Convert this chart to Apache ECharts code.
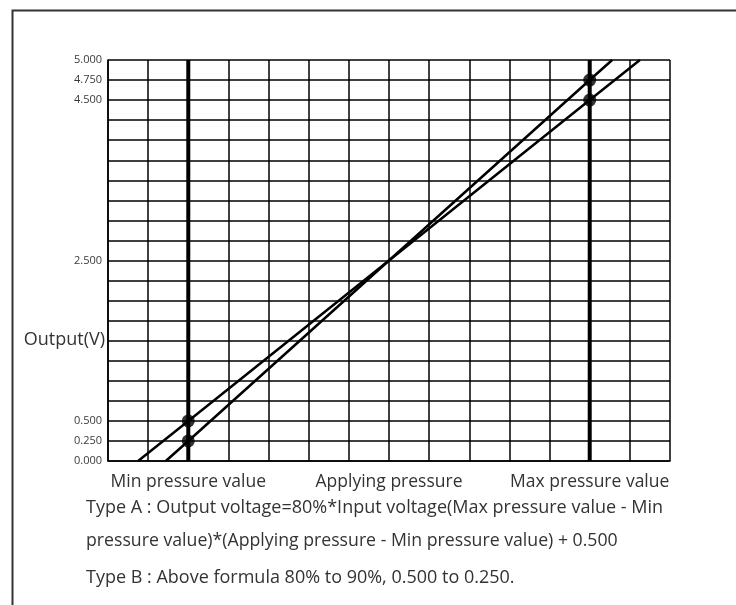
<!DOCTYPE html>
<html>
<head>
<meta charset="utf-8">
<script src="https://cdn.jsdelivr.net/npm/echarts@6/dist/echarts.min.js"></script>
<style>
html,body{margin:0;padding:0;background:#fff;}
#chart{width:736px;height:605px;}
</style>
</head>
<body>
<div id="chart"></div>
<script>
// ---- data ----
var xMin = 0, xMax = 14;
var yMin = 0, yMax = 5;
var yLabelsShown = [0, 0.25, 0.5, 2.5, 4.5, 4.75, 5];
var xLabelPositions = [2, 7, 12];
var xLabelTexts = ['Min pressure value', 'Applying pressure', 'Max pressure value'];
var minPressureX = 2;
var maxPressureX = 12;
var typeA = [[0.75, 0], [2, 0.5], [12, 4.5], [13.25, 5]];
var typeB = [[1.44, 0], [2, 0.25], [12, 4.75], [12.56, 5]];
var markPoints = [[2, 0.5], [2, 0.25], [12, 4.75], [12, 4.5]];
var yAxisName = 'Output(V)';
var noteLines = [
  'Type A : Output voltage=80%*Input voltage(Max pressure value - Min',
  'pressure value)*(Applying pressure - Min pressure value) + 0.500',
  'Type B : Above formula 80% to 90%, 0.500 to 0.250.'
];

var chart = echarts.init(document.getElementById('chart'), null, {renderer: 'canvas'});
var font = 'Open Sans';
var textColor = '#333';

var option = {
  backgroundColor: '#fff',
  animation: false,
  grid: {left: 108, right: 66, top: 60, bottom: 144, containLabel: false, outerBoundsMode: 'none'},
  xAxis: {
    type: 'value', min: xMin, max: xMax, interval: 1,
    axisLine: {show: true, lineStyle: {color: '#000', width: 1.5}},
    axisTick: {show: false},
    splitLine: {show: true, lineStyle: {color: '#000', width: 1.5}},
    axisLabel: {
      show: true, margin: 12, fontSize: 17.5, color: textColor, fontFamily: font,
      showMinLabel: true, showMaxLabel: true, hideOverlap: false,
      formatter: function (v) {
        var i = xLabelPositions.indexOf(v);
        return i >= 0 ? xLabelTexts[i] : '';
      }
    }
  },
  yAxis: {
    type: 'value', min: yMin, max: yMax, interval: 0.25,
    axisLine: {show: true, lineStyle: {color: '#000', width: 1.5}},
    axisTick: {show: false},
    splitLine: {show: true, lineStyle: {color: '#000', width: 1.5}},
    axisLabel: {
      show: true, margin: 6, fontSize: 11, color: '#3a3a3a', fontFamily: font,
      formatter: function (v) {
        for (var i = 0; i < yLabelsShown.length; i++) {
          if (Math.abs(yLabelsShown[i] - v) < 1e-6) return v.toFixed(3);
        }
        return '';
      }
    }
  },
  graphic: [
    {type: 'rect', left: 10, top: 8, z: -10, silent: true,
      shape: {x: 0, y: 0, width: 760, height: 640},
      style: {fill: 'none', stroke: '#333', lineWidth: 2}},
    {type: 'text', x: 105, y: 340, silent: true,
      style: {text: yAxisName, fontSize: 18, fontFamily: font, fill: textColor, textAlign: 'right', textVerticalAlign: 'middle'}},
    {type: 'text', x: 86, y: 508, silent: true,
      style: {text: noteLines[0], fontSize: 18, fontFamily: font, fill: textColor, textVerticalAlign: 'middle'}},
    {type: 'text', x: 86, y: 541, silent: true,
      style: {text: noteLines[1], fontSize: 17.7, fontFamily: font, fill: textColor, textVerticalAlign: 'middle'}},
    {type: 'text', x: 86, y: 578, silent: true,
      style: {text: noteLines[2], fontSize: 18, fontFamily: font, fill: textColor, textVerticalAlign: 'middle'}}
  ],
  series: [
    {type: 'line', data: [[minPressureX, yMin], [minPressureX, yMax]], symbol: 'none',
      lineStyle: {color: '#000', width: 4}, z: 3},
    {type: 'line', data: [[maxPressureX, yMin], [maxPressureX, yMax]], symbol: 'none',
      lineStyle: {color: '#000', width: 4}, z: 3},
    {name: 'Type A', type: 'line', data: typeA, symbol: 'none',
      lineStyle: {color: '#000', width: 2.5}, z: 4},
    {name: 'Type B', type: 'line', data: typeB, symbol: 'none',
      lineStyle: {color: '#000', width: 2.5}, z: 4},
    {type: 'scatter', data: markPoints, symbol: 'circle', symbolSize: 13,
      itemStyle: {color: '#000'}, z: 5}
  ]
};
chart.setOption(option);
</script>
</body>
</html>
